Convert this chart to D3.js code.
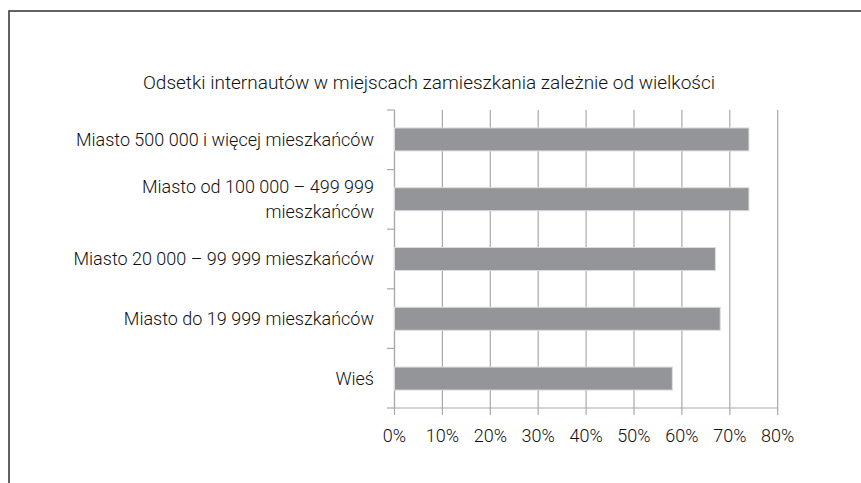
<!DOCTYPE html>
<html>
<head>
<meta charset="utf-8">
<script src="https://cdn.jsdelivr.net/npm/d3@7"></script>
<style>
  body { margin: 0; background: #fff; }
  text { font-family: Roboto, "DejaVu Sans Condensed", sans-serif; font-weight: 300; fill: #111; }
  .grid line { stroke: #a7a9ac; stroke-width: 1.2; }
  .axis path { fill: none; stroke: #a7a9ac; stroke-width: 1.2; }
  .axis line { stroke: #a7a9ac; stroke-width: 1.2; }
  .bar { fill: #939598; stroke: #dcdcdc; stroke-width: 1; }
</style>
</head>
<body>
<script>
var width = 861,
    height = 483;

var title = "Odsetki internautów w miejscach zamieszkania zależnie od wielkości";

var categories = [
  ["Miasto 500 000 i więcej mieszkańców"],
  ["Miasto od 100 000 – 499 999", "mieszkańców"],
  ["Miasto 20 000 – 99 999 mieszkańców"],
  ["Miasto do 19 999 mieszkańców"],
  ["Wieś"]
];
var values = [74, 74, 67, 68, 58];
var ticks = [0, 10, 20, 30, 40, 50, 60, 70, 80];

var margin = {top: 110, left: 394.5, right: 83, bottom: 75};

var svg = d3.select("body").append("svg")
    .attr("width", width)
    .attr("height", height);

// frame, open to the right and bottom like the cropped original
svg.append("rect")
    .attr("x", 9)
    .attr("y", 11)
    .attr("width", 900)
    .attr("height", 520)
    .attr("fill", "none")
    .attr("stroke", "#3c3c3c")
    .attr("stroke-width", 1.6);

svg.append("text")
    .attr("x", 429)
    .attr("y", 89)
    .attr("text-anchor", "middle")
    .style("font-size", "19px")
    .text(title);

var x = d3.scaleLinear()
    .domain([0, 80])
    .range([margin.left, margin.left + 383.2]);

var y = d3.scaleBand()
    .domain(d3.range(categories.length))
    .range([margin.top, 408])
    .paddingInner(0.615)
    .paddingOuter(0.3);

var yEdges = d3.range(categories.length + 1).map(function(i) {
  return margin.top + i * (408 - margin.top) / categories.length;
});

svg.append("g")
    .attr("class", "grid")
  .selectAll("line")
    .data(ticks)
  .enter().append("line")
    .attr("x1", function(d) { return x(d); })
    .attr("x2", function(d) { return x(d); })
    .attr("y1", margin.top)
    .attr("y2", 415);

// left axis with ticks at category boundaries
var axis = svg.append("g").attr("class", "axis");
axis.append("path")
    .attr("d", "M" + x(0) + "," + margin.top + "V408H" + x(80));
axis.selectAll("line")
    .data(yEdges)
  .enter().append("line")
    .attr("x1", x(0) - 7.5)
    .attr("x2", x(0))
    .attr("y1", function(d) { return d; })
    .attr("y2", function(d) { return d; });

svg.selectAll(".bar")
    .data(values)
  .enter().append("rect")
    .attr("class", "bar")
    .attr("x", x(0))
    .attr("y", function(d, i) { return y(i); })
    .attr("width", function(d) { return x(d) - x(0); })
    .attr("height", y.bandwidth());

svg.selectAll(".tick-label")
    .data(ticks)
  .enter().append("text")
    .attr("class", "tick-label")
    .attr("x", function(d) { return x(d); })
    .attr("y", 442)
    .attr("text-anchor", "middle")
    .style("font-size", "18px")
    .text(function(d) { return d + "%"; });

var label = svg.selectAll(".cat")
    .data(categories)
  .enter().append("text")
    .attr("class", "cat")
    .attr("text-anchor", "end")
    .style("font-size", "18px")
    .attr("y", function(d, i) { return y(i) + y.bandwidth() / 2; });

label.selectAll("tspan")
    .data(function(d) { return d; })
  .enter().append("tspan")
    .attr("x", 374)
    .attr("dy", function(d, i, nodes) {
      var n = nodes.length;
      return i == 0 ? (0.35 - (n - 1) * 0.68) + "em" : "1.36em";
    })
    .text(function(d) { return d; });
</script>
</body>
</html>
